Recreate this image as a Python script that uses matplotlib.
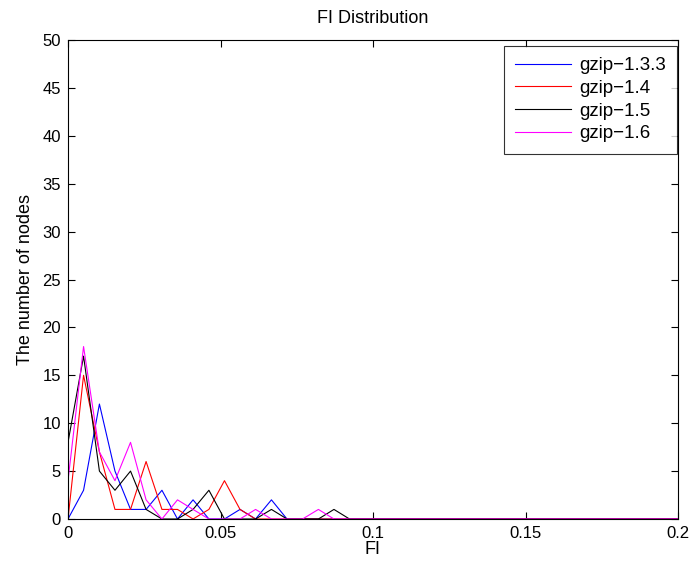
import matplotlib
matplotlib.use("Agg")
import matplotlib.pyplot as plt

plt.rcParams['font.family'] = ['Liberation Sans', 'DejaVu Sans']

# bin centres (40 bins from 0 to 0.2)
FI = [0.0, 0.0051, 0.0103, 0.0154, 0.0205, 0.0256, 0.0308, 0.0359, 0.0410, 0.0462,
      0.0513, 0.0564, 0.0615, 0.0667, 0.0718, 0.0769, 0.0821, 0.0872, 0.0923, 0.0974,
      0.1026, 0.1077, 0.1128, 0.1179, 0.1231, 0.1282, 0.1333, 0.1385, 0.1436, 0.1487,
      0.1538, 0.1590, 0.1641, 0.1692, 0.1744, 0.1795, 0.1846, 0.1897, 0.1949, 0.2000]

gzip_133 = [0, 3, 12, 5, 1, 1, 3, 0, 2, 0, 0, 1, 0, 2, 0, 0, 0, 0, 0, 0,
            0, 0, 0, 0, 0, 0, 0, 0, 0, 0, 0, 0, 0, 0, 0, 0, 0, 0, 0, 0]
gzip_14 = [0, 15, 7, 1, 1, 6, 1, 1, 0, 1, 4, 1, 0, 0, 0, 0, 0, 0, 0, 0,
           0, 0, 0, 0, 0, 0, 0, 0, 0, 0, 0, 0, 0, 0, 0, 0, 0, 0, 0, 0]
gzip_15 = [8, 17, 5, 3, 5, 1, 0, 0, 1, 3, 0, 0, 0, 1, 0, 0, 0, 1, 0, 0,
           0, 0, 0, 0, 0, 0, 0, 0, 0, 0, 0, 0, 0, 0, 0, 0, 0, 0, 0, 0]
gzip_16 = [4, 18, 7, 4, 8, 2, 0, 2, 1, 0, 0, 0, 1, 0, 0, 0, 1, 0, 0, 0,
           0, 0, 0, 0, 0, 0, 0, 0, 0, 0, 0, 0, 0, 0, 0, 0, 0, 0, 0, 0]

fig = plt.figure(figsize=(6.92, 5.67), dpi=100)
ax = fig.add_axes([68/692, 48/567, 610/692, 479/567])

ax.plot(FI, gzip_133, color=(0, 0, 1), lw=0.8, label='gzip\u22121.3.3')
ax.plot(FI, gzip_14, color=(1, 0, 0), lw=0.8, label='gzip\u22121.4')
ax.plot(FI, gzip_15, color='black', lw=0.8, label='gzip\u22121.5')
ax.plot(FI, gzip_16, color=(1, 0, 1), lw=0.8, label='gzip\u22121.6')

ax.set_xlim(0, 0.2)
ax.set_ylim(0, 50)
ax.set_xticks([0, 0.05, 0.1, 0.15, 0.2])
ax.set_xticklabels(['0', '0.05', '0.1', '0.15', '0.2'])
ax.set_yticks(range(0, 51, 5))
ax.tick_params(direction='in', top=True, right=True, length=5, width=0.8,
               labelsize=12, pad=5)
for s in ax.spines.values():
    s.set_linewidth(0.8)

ax.set_title('FI Distribution', fontsize=13, pad=12)
ax.set_xlabel('FI', fontsize=13, labelpad=0)
ax.set_ylabel('The number of nodes', fontsize=13, labelpad=6)

leg = ax.legend(loc='upper right', bbox_to_anchor=(0.998, 0.988), fontsize=13.5,
                frameon=True, fancybox=False, handlelength=3.0, handletextpad=0.4,
                labelspacing=0.3, borderpad=0.6, borderaxespad=0)
leg.get_frame().set_edgecolor('black')
leg.get_frame().set_linewidth(0.8)

fig.savefig('out.png', dpi=100)
